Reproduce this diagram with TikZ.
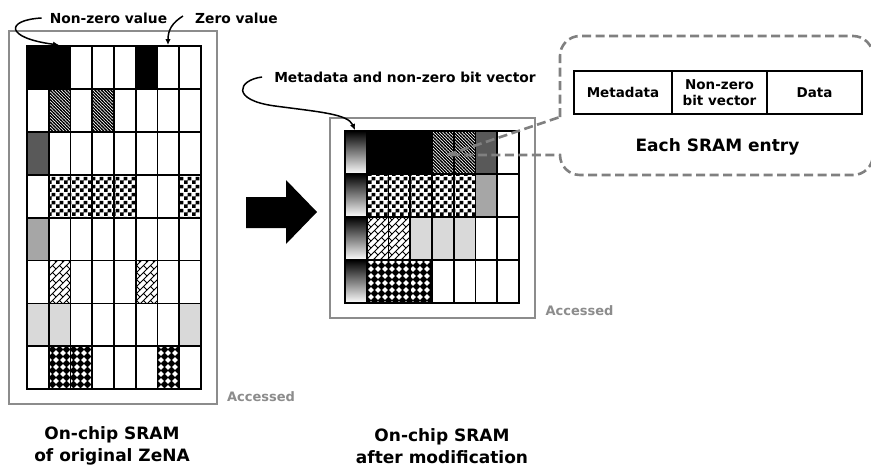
\documentclass[tikz,border=0pt]{standalone}
\usepackage{fontspec}
\setmainfont{DejaVu Sans}
\usetikzlibrary{patterns,arrows.meta}

% fill patterns used in the SRAM cells
\pgfdeclarepatternformonly{densediag}{\pgfqpoint{-1pt}{-1pt}}{\pgfqpoint{4.2pt}{4.2pt}}{\pgfqpoint{3.2pt}{3.2pt}}{%
  \pgfsetlinewidth{1.25pt}%
  \pgfpathmoveto{\pgfqpoint{-0.5pt}{3.7pt}}\pgfpathlineto{\pgfqpoint{3.7pt}{-0.5pt}}%
  \pgfusepath{stroke}}
\pgfdeclarepatternformonly{bigchecker}{\pgfpointorigin}{\pgfqpoint{8pt}{8pt}}{\pgfqpoint{8pt}{8pt}}{%
  \pgfpathrectangle{\pgfpointorigin}{\pgfqpoint{4pt}{4pt}}%
  \pgfpathrectangle{\pgfqpoint{4pt}{4pt}}{\pgfqpoint{4pt}{4pt}}%
  \pgfusepath{fill}}
\pgfdeclarepatternformonly{soliddiamonds}{\pgfqpoint{-0.5pt}{-0.5pt}}{\pgfqpoint{7.5pt}{7.5pt}}{\pgfqpoint{7pt}{7pt}}{%
  \pgfpathmoveto{\pgfqpoint{3.5pt}{-0.3pt}}%
  \pgfpathlineto{\pgfqpoint{7.3pt}{3.5pt}}%
  \pgfpathlineto{\pgfqpoint{3.5pt}{7.3pt}}%
  \pgfpathlineto{\pgfqpoint{-0.3pt}{3.5pt}}%
  \pgfpathclose\pgfusepath{fill}}
\pgfdeclarepatternformonly{diagbricks}{\pgfqpoint{-1pt}{-1pt}}{\pgfqpoint{8pt}{8pt}}{\pgfqpoint{7pt}{7pt}}{%
  \pgfsetlinewidth{0.8pt}%
  \pgfpathmoveto{\pgfqpoint{0pt}{0pt}}\pgfpathlineto{\pgfqpoint{7pt}{7pt}}%
  \pgfpathmoveto{\pgfqpoint{3.5pt}{3.5pt}}\pgfpathlineto{\pgfqpoint{7pt}{0pt}}%
  \pgfusepath{stroke}}

\definecolor{boxgray}{RGB}{140,140,140}
\definecolor{callgray}{RGB}{128,128,128}
\definecolor{dkgray}{RGB}{89,89,89}
\definecolor{mdgray}{RGB}{166,166,166}
\definecolor{ltgray}{RGB}{217,217,217}

\begin{document}
\begin{tikzpicture}[x=1pt,y=-1pt,
  fblack/.style={fill=black},
  fdiag/.style={pattern=densediag},
  fchk/.style={pattern=bigchecker},
  fdia/.style={pattern=soliddiamonds},
  fbrk/.style={pattern=diagbricks},
  fdk/.style={fill=dkgray},
  fmd/.style={fill=mdgray},
  flt/.style={fill=ltgray},
  fgrad/.style={top color=black,bottom color=white},
  cellline/.style={draw=black,line width=1.8pt},
  accbox/.style={draw=boxgray,line width=2.6pt},
  lbl/.style={font=\bfseries\fontsize{13.8}{16}\selectfont,inner sep=0pt},
  acctxt/.style={font=\bfseries\fontsize{13}{15}\selectfont,text=boxgray,inner sep=0pt},
  captxt/.style={font=\bfseries\fontsize{17}{21.7}\selectfont,align=center,inner sep=0pt},
  tblcell/.style={draw=black,line width=1.6pt,minimum height=43pt,inner sep=0pt,
    align=center,font=\bfseries\fontsize{13.5}{16.5}\selectfont},
  pointerline/.style={line width=1.5pt,-{Latex[length=6pt,width=5.5pt]}},
  calloutline/.style={draw=callgray,line width=2.6pt,dash pattern=on 9pt off 4.5pt},
  bigarrow/.style={fill=black}]

\fill[white] (0,0) rectangle (871,472);
\useasboundingbox (0,0) rectangle (871,472);

% cell geometry
\def\CW{21.75}\def\RH{42.9}
\def\LX{27}\def\LY{46}
\def\RX{345}\def\RY{131}

% ---- SRAM of original ZeNA (8 x 8) ----
\foreach \c/\r/\s in {1/1/fblack,2/1/fblack,6/1/fblack,
    2/2/fdiag,4/2/fdiag,
    1/3/fdk,
    2/4/fchk,3/4/fchk,4/4/fchk,5/4/fchk,8/4/fchk,
    1/5/fmd,
    2/6/fbrk,6/6/fbrk,
    1/7/flt,2/7/flt,8/7/flt,
    2/8/fdia,3/8/fdia,7/8/fdia}
  \path[\s] ({\LX+\CW*(\c-1)},{\LY+\RH*(\r-1)}) rectangle ++(\CW,\RH);
\foreach \c in {1,...,8}
  \foreach \r in {1,...,8}
    \draw[cellline] ({\LX+\CW*(\c-1)},{\LY+\RH*(\r-1)}) rectangle ++(\CW,\RH);
\draw[accbox] (9,31) rectangle (217,404);

% ---- SRAM after modification (4 x 8) ----
\foreach \c/\r/\s in {1/1/fgrad,1/2/fgrad,1/3/fgrad,1/4/fgrad,
    2/1/fblack,3/1/fblack,4/1/fblack,
    5/1/fdiag,6/1/fdiag,7/1/fdk,
    2/2/fchk,3/2/fchk,4/2/fchk,5/2/fchk,6/2/fchk,7/2/fmd,
    2/3/fbrk,3/3/fbrk,4/3/flt,5/3/flt,6/3/flt,
    2/4/fdia,3/4/fdia,4/4/fdia}
  \path[\s] ({\RX+\CW*(\c-1)},{\RY+43*(\r-1)}) rectangle ++(\CW,43);
\foreach \c in {1,...,8}
  \foreach \r in {1,...,4}
    \draw[cellline] ({\RX+\CW*(\c-1)},{\RY+43*(\r-1)}) rectangle ++(\CW,43);
\draw[accbox] (330,118) rectangle (535,318);

% ---- transformation arrow ----
\fill[bigarrow] (246,197) -- (286,197) -- (286,180) -- (317,212)
  -- (286,244) -- (286,228) -- (246,228) -- cycle;

% ---- labels and pointers ----
\node[lbl] (nz) at (108.5,18) {Non-zero value};
\node[lbl] (zv) at (236.5,18) {Zero value};
\node[lbl] (md) at (405,77) {Metadata and non-zero bit vector};
\coordinate (nzTip) at (59,45);
\coordinate (zvTip) at (168,45);
\coordinate (mdTip) at (355,130);
\draw[pointerline] ([xshift=-8]nz.west) .. controls (5,20) and (5,38) .. (nzTip);
\draw[pointerline] ([xshift=-12,yshift=2]zv.west) .. controls (172,23) and (168,30) .. (zvTip);
\draw[pointerline] ([xshift=-12]md.west) .. controls (238,80) and (230,100) .. (275,106)
  .. controls (320,112) and (348,114) .. (mdTip);

\node[acctxt] (accL) at (261,397) {Accessed};
\node[acctxt] (accR) at (579.5,311) {Accessed};

\node[captxt] (capL) at (112,446) {On-chip SRAM\\of original ZeNA};
\node[captxt] (capR) at (442,446) {On-chip SRAM\\after modification};

% ---- callout with the SRAM entry layout ----
\coordinate (tip) at (447,155);
\draw[calloutline] (560,117) -- (560,56) arc[start angle=180,end angle=270,radius=20]
  -- (853,36) arc[start angle=270,end angle=360,radius=20]
  -- (873,155) arc[start angle=0,end angle=90,radius=20]
  -- (580,175) arc[start angle=90,end angle=180,radius=20]
  -- (tip) -- cycle;

\node[tblcell,minimum width=98pt] (meta) at (623,92.5) {Metadata};
\node[tblcell,minimum width=95pt] (nzbv) at (719.5,92.5) {Non-zero\\bit vector};
\node[tblcell,minimum width=95pt] (data) at (814.5,92.5) {Data};
\node[captxt] (each) at (717.5,147) {Each SRAM entry};
\end{tikzpicture}
\end{document}
